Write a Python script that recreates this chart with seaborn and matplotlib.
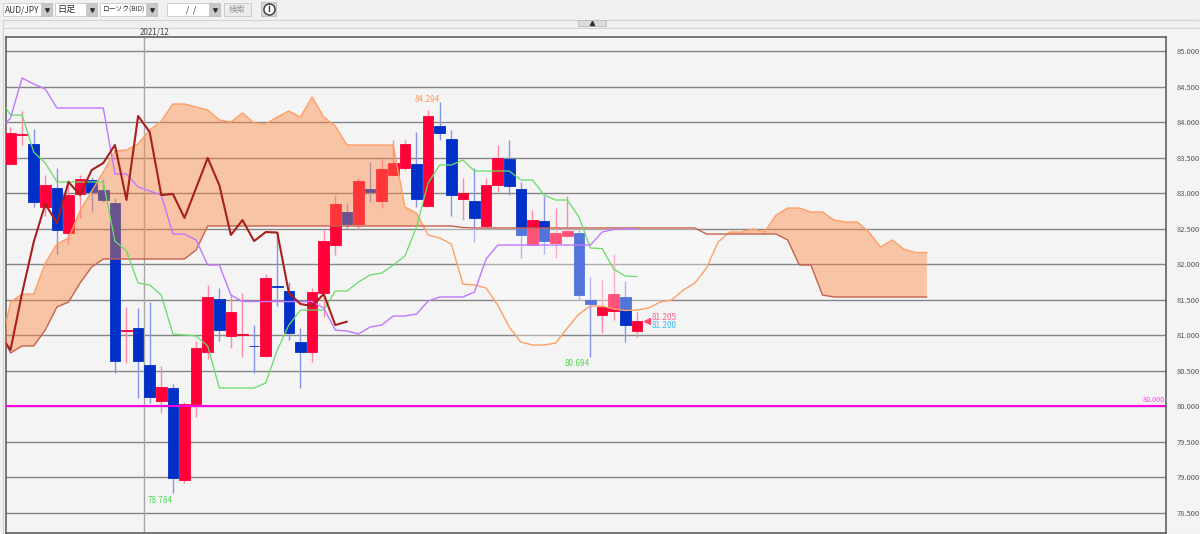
# AUD/JPY diario com Ichimoku - recriacao do grafico
import numpy as np
import matplotlib
matplotlib.use('Agg')
import matplotlib.pyplot as plt
from matplotlib.patches import Rectangle
import seaborn as sns

# ---------- 1. Dados ----------
opens = [83.415, 83.82, 83.697, 82.81, 83.084, 82.443, 82.993, 83.19, 83.049, 82.859,
         81.07, 81.105, 80.584, 80.077, 80.26, 78.964, 80.035, 80.767, 81.514, 80.993,
         81.01, 80.855, 80.711, 81.69, 81.633, 80.908, 80.767, 81.598, 82.274, 82.739,
         82.57, 83.063, 82.894, 83.26, 83.359, 83.415, 82.824, 83.957, 83.767, 82.922,
         82.894, 82.542, 83.119, 83.486, 83.063, 82.274, 82.612, 82.302, 82.401, 82.443,
         81.5, 81.292, 81.345, 81.542, 81.063]
highs = [83.936, 84.162, 83.908, 83.26, 83.359, 83.19, 83.26, 83.232, 83.204, 82.936,
         81.401, 81.387, 81.471, 80.57, 80.316, 80.063, 80.922, 81.711, 81.669, 81.584,
         81.598, 81.147, 81.866, 82.457, 81.753, 81.105, 81.669, 82.486, 82.978, 82.866,
         83.218, 83.443, 83.5, 83.753, 83.753, 83.866, 84.176, 84.294, 83.894, 83.218,
         83.359, 83.218, 83.683, 83.753, 83.162, 82.767, 82.964, 82.795, 82.964, 82.5,
         81.823, 81.781, 82.147, 81.767, 81.331]
lows = [83.415, 83.683, 82.81, 82.683, 82.147, 82.288, 82.655, 82.739, 82.88, 80.471,
        80.612, 80.119, 80.049, 79.908, 78.784, 78.922, 79.852, 80.669, 80.922, 80.824,
        80.697, 80.471, 80.697, 81.415, 80.936, 80.26, 80.626, 81.26, 82.133, 82.514,
        82.5, 82.88, 82.795, 83.246, 83.331, 82.81, 82.81, 83.753, 82.683, 82.626,
        82.316, 82.528, 83.021, 82.978, 82.091, 82.26, 82.147, 82.091, 82.387, 81.5,
        80.694, 81.04, 81.218, 80.908, 80.978]
closes = [83.852, 83.831, 82.88, 83.119, 82.486, 82.978, 83.204, 83.021, 82.908, 80.64,
          81.077, 80.64, 80.133, 80.281, 78.992, 80.035, 80.824, 81.542, 81.077, 81.331,
          81.021, 80.845, 81.81, 81.683, 81.035, 80.767, 81.612, 82.33, 82.852, 82.57,
          83.176, 83.021, 83.345, 83.429, 83.697, 82.922, 84.091, 83.852, 82.978, 83.0,
          82.655, 83.119, 83.5, 83.105, 82.415, 82.626, 82.33, 82.443, 82.471, 81.57,
          81.443, 81.405, 81.584, 81.147, 81.2]

# linhas: todas comecam em x = -1 (cortado pela borda esquerda)
chikou = [81.035, 80.795, 81.598, 82.316, 82.852, 82.584, 83.162, 82.978, 83.331, 83.429,
          83.683, 82.908, 84.091, 83.866, 82.978, 82.993, 82.655, 83.077, 83.5, 83.119,
          82.415, 82.626, 82.33, 82.457, 82.45, 81.598, 81.443, 81.415, 81.584, 81.147,
          81.195]
kijun = [83.894, 84.063, 84.626, 84.542, 84.471, 84.204, 84.204, 84.204, 84.204, 84.204,
         83.274, 83.274, 83.091, 83.035, 82.978, 82.429, 82.429, 82.345, 81.993, 81.993,
         81.57, 81.478, 81.478, 81.478, 81.478, 81.478, 81.478, 81.478, 81.387, 81.077,
         81.063, 81.021, 81.119, 81.147, 81.274, 81.274, 81.302, 81.485, 81.542, 81.542,
         81.542, 81.612, 82.077, 82.274, 82.274, 82.274, 82.274, 82.274, 82.274, 82.274,
         82.274, 82.274, 82.457, 82.493, 82.5, 82.5]
tenkan = [84.359, 84.105, 84.105, 83.584, 83.429, 83.162, 83.162, 83.162, 83.162, 83.162,
          82.33, 82.19, 81.739, 81.711, 81.57, 81.021, 81.007, 80.993, 80.852, 80.26,
          80.26, 80.26, 80.26, 80.331, 80.795, 81.147, 81.359, 81.359, 81.359, 81.626,
          81.626, 81.753, 81.852, 81.88, 81.992, 82.119, 82.528, 83.147, 83.401, 83.401,
          83.471, 83.316, 83.316, 83.316, 83.316, 83.19, 83.19, 82.978, 82.908, 82.908,
          82.669, 82.232, 82.225, 81.936, 81.837, 81.83]
senkou_a = [80.697, 81.471, 81.584, 81.584, 82.021, 82.288, 82.373, 82.753, 83.035, 83.302,
            83.598, 83.612, 83.697, 83.894, 84.021, 84.26, 84.26, 84.218, 84.176, 84.035,
            84.007, 84.133, 83.993, 83.978, 84.077, 84.162, 84.077, 84.359, 84.077, 83.95,
            83.683, 83.683, 83.683, 83.683, 83.683, 82.809, 82.725, 82.415, 82.373, 82.288,
            81.725, 81.711, 81.669, 81.429, 81.119, 80.908, 80.866, 80.866, 80.894, 81.105,
            81.302, 81.415, 81.415, 81.373, 81.352, 81.359, 81.387, 81.471, 81.5, 81.64,
            81.739, 81.95, 82.316, 82.457, 82.457, 82.5, 82.457, 82.697, 82.795, 82.795,
            82.739, 82.739, 82.626, 82.598, 82.598, 82.457, 82.246, 82.345, 82.218, 82.169,
            82.169]
senkou_b = [81.091, 80.753, 80.852, 80.852, 81.077, 81.401, 81.471, 81.739, 81.964, 82.077,
            82.077, 82.077, 82.077, 82.077, 82.077, 82.077, 82.077, 82.204, 82.542, 82.542,
            82.542, 82.542, 82.542, 82.542, 82.542, 82.542, 82.542, 82.542, 82.542, 82.542,
            82.542, 82.542, 82.542, 82.542, 82.542, 82.542, 82.542, 82.542, 82.542, 82.542,
            82.521, 82.514, 82.514, 82.514, 82.514, 82.514, 82.514, 82.514, 82.514, 82.514,
            82.514, 82.514, 82.514, 82.514, 82.514, 82.514, 82.514, 82.514, 82.514, 82.514,
            82.514, 82.429, 82.429, 82.429, 82.429, 82.429, 82.429, 82.429, 82.345, 81.993,
            81.993, 81.57, 81.542, 81.542, 81.542, 81.542, 81.542, 81.542, 81.542, 81.542,
            81.542]

y_ticks = [78.5, 79.0, 79.5, 80.0, 80.5, 81.0, 81.5, 82.0, 82.5, 83.0, 83.5, 84.0, 84.5, 85.0]
month_pos = 11.5
month_label = '2021/12'
level_line = 80.0
level_label = '80.000'
combo_labels = ['AUD/JPY', '日足', 'ローソク(BID)', ' /  /']
search_label = '検索'

# ---------- 2. Figura ----------
sns.set_theme(style='white')
plt.rcParams['font.family'] = ['Noto Sans CJK JP', 'DejaVu Sans']

BG = '#f4f4f4'
BLUE, RED = '#0030c8', '#ff0038'
BLUE_W, RED_W = '#8595e8', '#ff8aa4'
W, H = 1200, 534

fig = plt.figure(figsize=(W / 100, H / 100), dpi=100, facecolor='#f1f1f1')

# barra de ferramentas (coordenadas em pixels)
ui = fig.add_axes([0, 0, 1, 1], zorder=0)
ui.set_xlim(0, W)
ui.set_ylim(H, 0)
ui.axis('off')
ui.add_patch(Rectangle((3, 20), 1197, 514, fc=BG, ec='#d0d0d0', lw=0.8))
ui.add_patch(Rectangle((3, 20), 1197, 8, fc='#f0f0f0', ec='#d4d4d4', lw=0.8))
ui.add_patch(Rectangle((578, 20), 28, 6, fc='#dcdcdc', ec='#bbbbbb', lw=0.6))
ui.plot([592], [23], marker='^', ms=3, color='#333333')

combos = [(3, 49, 6.0), (55, 42, 6.6), (100, 57, 4.9), (167, 53, 6.0)]
for (cx, cw, fs), label in zip(combos, combo_labels):
    ui.add_patch(Rectangle((cx, 3), cw, 13, fc='white', ec='#cfcfcf', lw=0.7))
    ui.add_patch(Rectangle((cx + cw - 11, 3), 11, 13, fc='#c8c8c8', ec='#c0c0c0', lw=0.5))
    ui.plot([cx + cw - 5.5], [9.5], marker='v', ms=2.6, color='#333333')
    ui.text(cx + 2 if cx != 167 else 184, 9.5, label, fontsize=fs, color='#333333',
            va='center', ha='left')
ui.add_patch(Rectangle((224, 3), 27, 13, fc='#ececec', ec='#cccccc', lw=0.7))
ui.text(237.5, 9.5, search_label, fontsize=6.0, color='#999999', va='center', ha='center')
ui.add_patch(Rectangle((261, 2), 15, 14, fc='#d4d4d4', ec='#c4c4c4', lw=0.7))
ui.plot([268.5], [9], marker='o', ms=8, mfc='white', mec='#444444', mew=1.1)
ui.text(268.5, 9, 'i', fontsize=7, fontweight='bold', color='#444444', va='center', ha='center')

# ---------- 3. Painel principal ----------
ax = fig.add_axes([5.5 / W, 1 - 533 / H, 1160 / W, 496 / H], zorder=1)
ax.set_facecolor(BG)

idx = np.arange(len(opens))
o, h, l, c = map(np.array, (opens, highs, lows, closes))
up = c >= o
cores = np.where(up, RED, BLUE)
cores_w = np.where(up, RED_W, BLUE_W)

for y in y_ticks:
    ax.axhline(y, color='#858585', lw=1.0, zorder=1)
ax.axvline(month_pos, color='#a8a8a8', lw=1.0, zorder=2)

ax.vlines(idx, l, h, colors=cores_w, lw=1.0, zorder=2.5)
ax.bar(idx, np.abs(c - o), bottom=np.minimum(o, c), width=0.9, color=cores,
       edgecolor=cores, linewidth=0.6, zorder=3)

# nuvem sobre os candles
xc = np.arange(-1, len(senkou_a) - 1)
a, b = np.array(senkou_a), np.array(senkou_b)
ax.fill_between(xc, a, b, where=a >= b, interpolate=True, color='#ff823c', alpha=0.42,
                lw=0, zorder=4)
ax.fill_between(xc, a, b, where=a < b, interpolate=True, color='white', alpha=0.33,
                lw=0, zorder=4)


def linha(valores, cor, lw):
    xs = np.arange(-1, len(valores) - 1)
    sns.lineplot(x=xs, y=valores, color=cor, linewidth=lw, ax=ax, sort=False,
                 estimator=None, legend=False, zorder=5)


linha(senkou_a, '#ff9f66', 1.0)
linha(senkou_b, '#c8604e', 1.0)
linha(tenkan, '#66dd66', 0.9)
linha(kijun, '#c078ff', 1.0)
linha(chikou, '#a8201c', 1.5)

ax.axhline(level_line, color='#ff00e0', lw=1.5, zorder=6)
ax.text(99.5, level_line + 0.035, level_label, color='#ff40f0', fontsize=5.2, ha='right',
        va='bottom', zorder=6)

ax.text(35.9, 84.33, '84.294', color='#ff9a55', fontsize=5.9, ha='center', va='center', zorder=7)
ax.text(12.9, 78.68, '78.784', color='#55d855', fontsize=5.9, ha='center', va='center', zorder=7)
ax.text(48.9, 80.60, '80.694', color='#55d855', fontsize=5.9, ha='center', va='center', zorder=7)
ax.text(55.3, 81.26, '81.205', color='#ff5f8a', fontsize=5.9, ha='left', va='center', zorder=7)
ax.text(55.3, 81.147, '81.200', color='#35bdf2', fontsize=5.9, ha='left', va='center', zorder=7)
ax.plot([54.9], [81.2], marker='<', ms=4, color='#ff4a70', zorder=7)

ax.set_xlim(-0.431, 99.57)
ax.set_ylim(78.218, 85.204)
ax.set_xticks([])
ax.set_yticks(y_ticks)
ax.set_yticklabels([f'{v:.3f}' for v in y_ticks], fontsize=5.4, color='#555555')
ax.yaxis.tick_right()
ax.tick_params(axis='y', length=0, pad=8)
ax.set_xlabel('')
ax.set_ylabel('')
for s in ax.spines.values():
    s.set_color('#555555')
    s.set_linewidth(1.1)
    s.set_visible(True)

ax.text(month_pos + 0.95, 1.0 + 4.5 / 496, month_label, transform=ax.get_xaxis_transform(),
        fontsize=5.8, color='#444444', ha='center', va='center', clip_on=False)

fig.savefig('out.png', dpi=100, facecolor=fig.get_facecolor())
plt.close(fig)
